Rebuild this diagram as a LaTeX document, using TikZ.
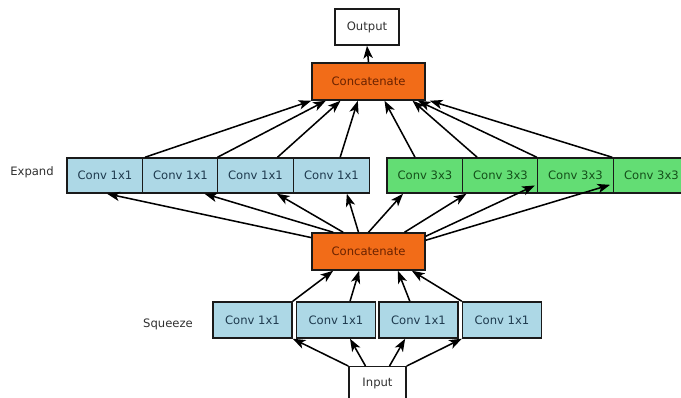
\documentclass[tikz,border=0pt]{standalone}
\usepackage{fontspec}
\setmainfont{DejaVu Sans}
\usetikzlibrary{arrows.meta}
\definecolor{bluefill}{HTML}{ADD8E6}
\definecolor{greenfill}{HTML}{63DD74}
\definecolor{orangefill}{HTML}{F26C18}
\definecolor{bluetext}{HTML}{1E3A4E}
\definecolor{greentext}{HTML}{14501A}
\definecolor{orangetext}{HTML}{6A2200}
\definecolor{greytext}{HTML}{303030}
\definecolor{edgecol}{HTML}{1A1A1A}
\tikzset{
  basebox/.style={draw=edgecol, line width=1.1pt, rectangle, inner sep=0pt,
    font=\fontsize{8.7}{10}\selectfont},
  bluebox/.style={basebox, fill=bluefill, text=bluetext},
  greenbox/.style={basebox, fill=greenfill, text=greentext},
  orangebox/.style={basebox, fill=orangefill, text=orangetext,
    minimum width=84.75pt, minimum height=27.75pt},
  whitebox/.style={basebox, fill=white, text=greytext},
  expbox/.style={minimum width=57pt, minimum height=26.25pt},
  sqbox/.style={minimum width=59.25pt, minimum height=27pt},
  rowlabel/.style={font=\fontsize{8.7}{10}\selectfont, text=greytext, inner sep=0pt},
  conn/.style={draw=black, line width=1.15pt, -{Stealth[length=9.5pt,width=7pt,inset=2.5pt]}}
}
\begin{document}
\begin{tikzpicture}[x=0.75pt,y=-0.75pt]
\useasboundingbox (0,0) rectangle (681,398);
% nodes
\node[whitebox, minimum width=48pt, minimum height=27pt] (out) at (367,27) {Output};
\node[orangebox] (cattop) at (368.5,81.5) {Concatenate};
\node[bluebox, expbox] (b1) at (105,175.5) {Conv 1x1};
\node[bluebox, expbox] (b2) at (180.5,175.5) {Conv 1x1};
\node[bluebox, expbox] (b3) at (255.5,175.5) {Conv 1x1};
\node[bluebox, expbox] (b4) at (331.5,175.5) {Conv 1x1};
\node[greenbox, expbox] (g1) at (425,175.5) {Conv 3x3};
\node[greenbox, expbox] (g2) at (500.5,175.5) {Conv 3x3};
\node[greenbox, expbox] (g3) at (575.5,175.5) {Conv 3x3};
\node[greenbox, expbox] (g4) at (651.5,175.5) {Conv 3x3};
\node[orangebox] (catmid) at (368.5,251.5) {Concatenate};
\node[bluebox, sqbox] (s1) at (252.5,320) {Conv 1x1};
\node[bluebox, sqbox] (s2) at (336,320) {Conv 1x1};
\node[bluebox, sqbox] (s3) at (418.5,320) {Conv 1x1};
\node[bluebox, sqbox] (s4) at (502,320) {Conv 1x1};
\node[whitebox, minimum width=42.75pt, minimum height=28pt, anchor=north] (in) at (377.5,366) {};
\node[font=\fontsize{8.7}{10}\selectfont, text=greytext, inner sep=0pt] (intext) at (377.5,383) {Input};
\node[rowlabel] (lexp) at (32,172) {Expand};
\node[rowlabel] (lsq) at (168,324) {Squeeze};
% input -> squeeze
\draw[conn] (in.north west) -- (s1.south east);
\draw[conn] ([xshift=-9pt]in.north) -- ([xshift=10.5pt]s2.south);
\draw[conn] ([xshift=9pt]in.north) -- ([xshift=-10pt]s3.south);
\draw[conn] (in.north east) -- (s4.south west);
% squeeze -> concat mid
\draw[conn] (s1.north east) -- ([xshift=-26.5pt]catmid.south);
\draw[conn] ([xshift=10.5pt]s2.north) -- ([xshift=-7pt]catmid.south);
\draw[conn] ([xshift=-6.5pt]s3.north) -- ([xshift=22pt]catmid.south);
\draw[conn] (s4.north west) -- ([xshift=32.5pt]catmid.south);
% concat mid -> expand
\draw[conn] ([yshift=-4pt]catmid.north west) -- ([xshift=1.5pt]b1.south);
\draw[conn] ([xshift=-26.5pt]catmid.north) -- ([xshift=18pt]b2.south);
\draw[conn] ([xshift=-19pt]catmid.north) -- ([xshift=16pt]b3.south);
\draw[conn] ([xshift=-7.5pt]catmid.north) -- ([xshift=11.5pt]b4.south);
\draw[conn] ([xshift=0pt]catmid.north) -- ([xshift=-16.5pt]g1.south);
\draw[conn] ([xshift=27pt]catmid.north) -- ([xshift=-25.5pt]g2.south);
\draw[conn] ([yshift=-3pt]catmid.north east) -- ([yshift=-7.5pt,xshift=-1.5pt]g3.west);
\draw[conn] ([yshift=-6pt]catmid.north east) -- ([yshift=-7pt,xshift=-2pt]g4.west);
% expand -> concat top
\draw[conn] ([xshift=30pt]b1.north) -- (cattop.south west);
\draw[conn] ([xshift=-28.5pt]b3.north) -- ([xshift=-32pt]cattop.south);
\draw[conn] ([xshift=16.5pt]b3.north) -- ([xshift=-21pt]cattop.south);
\draw[conn] ([xshift=6.5pt]b4.north) -- ([xshift=-8pt]cattop.south);
\draw[conn] ([xshift=-7.5pt]g1.north) -- ([xshift=12pt]cattop.south);
\draw[conn] ([xshift=-17.5pt]g2.north) -- ([xshift=33pt]cattop.south);
\draw[conn] ([xshift=-29pt]g3.north) -- ([xshift=37pt]cattop.south);
\draw[conn] ([xshift=-29.5pt]g4.north) -- ([xshift=46pt]cattop.south);
% concat top -> output
\draw[conn] (cattop.north) -- (out.south);
\end{tikzpicture}
\end{document}
